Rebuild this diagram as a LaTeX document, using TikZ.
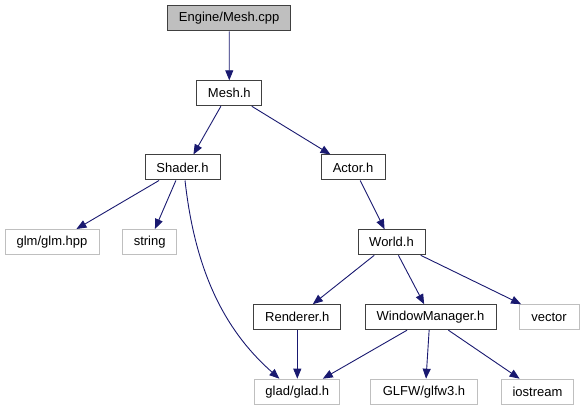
\documentclass[tikz,border=0pt]{standalone}
\usepackage{fontspec}
\setmainfont{Liberation Sans}
\usepackage{xcolor}
\usepackage{tikz}
\usetikzlibrary{arrows.meta, positioning}
\definecolor{IncEdge}{RGB}{25, 25, 112}
\definecolor{IncGray}{RGB}{191, 191, 191}
\definecolor{IncBorder}{RGB}{64, 64, 64}

\tikzset{
  incfile/.style={draw=IncBorder, line width=1pt, minimum height=25pt, inner sep=0pt,
    font=\fontsize{13}{15}\selectfont},
  incroot/.style={incfile, fill=IncGray},
  incsys/.style={incfile, draw=IncGray},
  incedge/.style={draw=IncEdge, line width=0.9pt, -{Triangle[length=10pt, width=8pt]}}
}

\begin{document}
\begin{tikzpicture}[x=1pt, y=-1pt]
  \useasboundingbox (0,0) rectangle (584,411);

  \node[incroot, minimum width=123pt] (cpp) at (229.2,18.5) {Engine/Mesh.cpp};
  \node[incfile, minimum width=65pt] (meshh) at (229.3,93.3) {Mesh.h};
  \node[incfile, minimum width=75pt] (shader) at (182.5,167.5) {Shader.h};
  \node[incfile, minimum width=64pt] (actor) at (353,167.5) {Actor.h};
  \node[incsys, minimum width=94pt] (glm) at (52,242) {glm/glm.hpp};
  \node[incsys, minimum width=54pt] (string) at (149.7,242) {string};
  \node[incfile, minimum width=67pt] (world) at (391.5,242.3) {World.h};
  \node[incfile, minimum width=87pt] (renderer) at (297.3,317.2) {Renderer.h};
  \node[incfile, minimum width=131pt] (winmgr) at (430.5,317.2) {WindowManager.h};
  \node[incsys, minimum width=60pt] (vector) at (549,317.2) {vector};
  \node[incsys, minimum width=85pt] (glad) at (297.3,391.7) {glad/glad.h};
  \node[incsys, minimum width=107pt] (glfw) at (424,391.7) {GLFW/glfw3.h};
  \node[incsys, minimum width=72pt] (iostream) at (537.5,391.7) {iostream};

  \draw[incedge] (cpp.south) -- (meshh.north);
  \draw[incedge] (meshh.-123) -- (shader.50);
  \draw[incedge] (meshh.-30) -- (actor.150);
  \draw[incedge] (shader.-151) -- (glm.28);
  \draw[incedge] (shader.-117) -- (string.68);
  \draw[incedge] (shader.-79) .. controls (196,280) and (230,335) .. (glad.144);
  \draw[incedge] (actor.-61) -- (world.118);
  \draw[incedge] (world.-143) -- (renderer.40);
  \draw[incedge] (world.-62) -- (winmgr.116);
  \draw[incedge] (world.-24) -- (vector.155);
  \draw[incedge] (renderer.south) -- (glad.north);
  \draw[incedge] (winmgr.-151) -- (glad.27);
  \draw[incedge] (winmgr.-96) -- (glfw.81);
  \draw[incedge] (winmgr.-36) -- (iostream.144);
\end{tikzpicture}
\end{document}
